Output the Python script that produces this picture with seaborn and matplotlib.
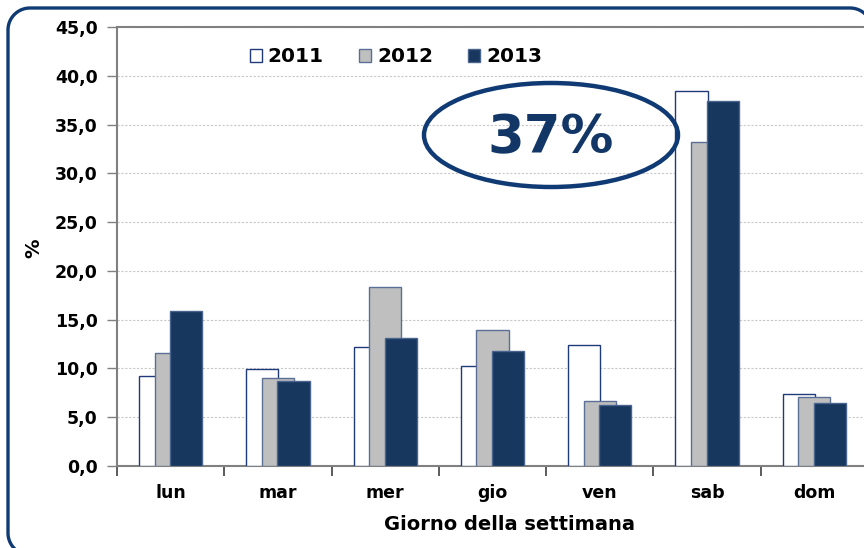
import matplotlib
matplotlib.use("Agg")
import matplotlib.pyplot as plt
import seaborn as sns
import numpy as np
from matplotlib.patches import Ellipse, Patch
from matplotlib.lines import Line2D
from matplotlib.ticker import FuncFormatter, FixedLocator

days = ["lun", "mar", "mer", "gio", "ven", "sab", "dom"]
years = ["2011", "2012", "2013"]
v2011 = [9.2, 9.9, 12.2, 10.2, 12.4, 38.4, 7.4]
v2012 = [11.6, 9.0, 18.3, 13.9, 6.7, 33.2, 7.1]
v2013 = [15.9, 8.7, 13.1, 11.8, 6.3, 37.4, 6.5]
series = [v2011, v2012, v2013]
yticks = [0, 5, 10, 15, 20, 25, 30, 35, 40, 45]

fills = ["#FFFFFF", "#BFBFBF", "#17375E"]
edges = ["#1F3A78", "#5A6E96", "#4A6490"]
offsets = [-0.145, 0.0, 0.145]
navy = "#0F3A73"

sns.set_style("white")
plt.rcParams["font.family"] = ["DejaVu Sans"]

fig = plt.figure(figsize=(8.64, 5.48), dpi=100)
ax = fig.add_axes([117 / 864, 1 - 466 / 548, 751 / 864, 439 / 548])

for vals, fc, ec, off in zip(series, fills, edges, offsets):
    sns.barplot(x=days, y=vals, order=days, width=0.30, color=fc,
                edgecolor=ec, linewidth=1.0, saturation=1, ax=ax, zorder=3)
    for p in ax.containers[-1]:
        p.set_x(p.get_x() + off)
        p.set_facecolor(fc)

ax.set_xlim(-0.5, 6.5)
ax.set_ylim(0, 45)
ax.set_yticks(yticks)
ax.yaxis.set_major_formatter(FuncFormatter(lambda v, p: f"{v:.1f}".replace(".", ",")))
ax.yaxis.grid(True, color="#C8C8C8", linestyle=(0, (2, 1.5)), linewidth=0.8, zorder=0)
ax.set_axisbelow(True)

ax.set_xticks(range(len(days)))
ax.set_xticklabels(days)
ax.xaxis.set_minor_locator(FixedLocator(np.arange(-0.5, 7.0, 1.0)))
ax.tick_params(axis="x", which="major", length=0, pad=13, labelsize=12.5)
ax.tick_params(axis="x", which="minor", bottom=True, length=7, width=1.2,
               color="#404040", direction="out")
ax.tick_params(axis="y", which="major", length=7, width=1, color="#808080",
               direction="out", labelsize=12.5, pad=7, left=True)
for lab in ax.get_xticklabels() + ax.get_yticklabels():
    lab.set_fontweight("bold")
    lab.set_color("#000000")

ax.spines["right"].set_visible(False)
for s in ["left", "bottom", "top"]:
    ax.spines[s].set_color("#808080")
    ax.spines[s].set_linewidth(1.5)

ax.set_xlabel("Giorno della settimana", fontsize=14, fontweight="bold", color="#000000")
ax.xaxis.set_label_coords((510 - 117) / 751, -(515 - 466) / 439)
ax.set_ylabel("%", fontsize=14, fontweight="bold", color="#000000")
ax.yaxis.set_label_coords(-(117 - 43) / 751, (466 - 248) / 439)

handles = [Patch(facecolor=fc, edgecolor=ec, linewidth=1.0) for fc, ec in zip(fills, edges)]
leg = ax.legend(handles, years, loc="center", bbox_to_anchor=((396 - 117) / 751, (466 - 57) / 439),
                ncol=3, frameon=False, handlelength=0.6, handleheight=0.6, handletextpad=0.3,
                columnspacing=1.75, prop={"weight": "bold", "size": 14.5})
for t in leg.get_texts():
    t.set_color("#000000")

ell = Ellipse(xy=((551 - 117) / 751, (466 - 135) / 439), width=254 / 751, height=104 / 439,
              transform=ax.transAxes, facecolor="none", edgecolor=navy, linewidth=3.2, zorder=6)
ax.add_patch(ell)
ax.text((551 - 117) / 751, (466 - 138) / 439, "37%", transform=ax.transAxes, ha="center",
        va="center", fontsize=38, fontweight="bold", color="#123766", zorder=7)

# rounded outer frame (in inches), partly beyond the right/bottom edges
x0, x1, y0, y1, r = 0.08, 8.72, -0.07, 5.40, 0.22
t = np.linspace(0, np.pi / 2, 30)
xs, ys = [], []
for cx, cy, a0 in [(x1 - r, y1 - r, 0), (x0 + r, y1 - r, np.pi / 2),
                   (x0 + r, y0 + r, np.pi), (x1 - r, y0 + r, 1.5 * np.pi)]:
    xs.extend(cx + r * np.cos(a0 + t))
    ys.extend(cy + r * np.sin(a0 + t))
xs.append(xs[0]); ys.append(ys[0])
fig.add_artist(Line2D(xs, ys, transform=fig.dpi_scale_trans, color=navy, linewidth=2.4,
                      solid_joinstyle="round"))

fig.savefig("out.png", dpi=100)
